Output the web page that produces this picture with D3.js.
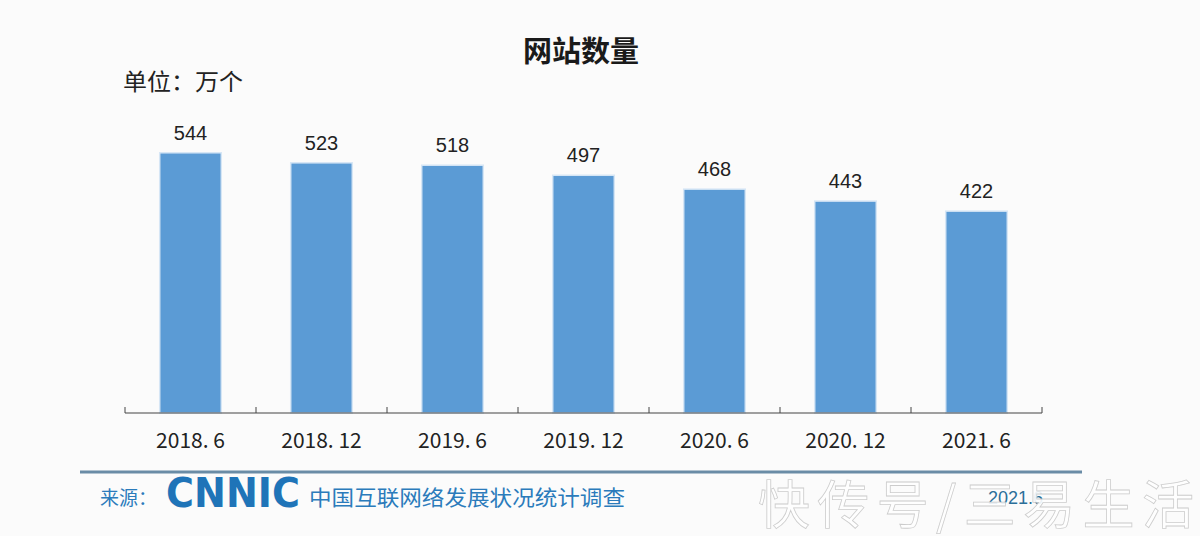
<!DOCTYPE html>
<html>
<head>
<meta charset="utf-8">
<script src="https://cdn.jsdelivr.net/npm/d3@7"></script>
<style>
body { margin: 0; background: #fff; }
svg { display: block; }
</style>
</head>
<body>
<div id="grafica"></div>
<script>
// datos
var periodos = ["2018.6", "2018.12", "2019.6", "2019.12", "2020.6", "2020.12", "2021.6"];
var sitios = [544, 523, 518, 497, 468, 443, 422];

var W = 1200, H = 536;
var margin = {top: 126, right: 158, bottom: 123, left: 125},
width = W - margin.left - margin.right,
height = H - margin.top - margin.bottom;

var svg = d3.select("#grafica")
.append("svg")
.attr("width", W)
.attr("height", H);

svg.append("rect").attr("width", W).attr("height", H).attr("fill", "#fbfbfb");

// titulo y unidad
svg.append("text")
.attr("x", 581).attr("y", 62)
.attr("text-anchor", "middle")
.style("font-family", "'Noto Sans CJK SC'")
.style("font-weight", "bold")
.style("font-size", "29px")
.attr("fill", "#1a1a1a")
.text("网站数量");

svg.append("text")
.attr("x", 123).attr("y", 90)
.style("font-family", "'Noto Sans CJK SC'")
.style("font-size", "23px")
.attr("fill", "#222")
.attr("textLength", 120)
.attr("lengthAdjust", "spacingAndGlyphs")
.text("单位：万个");

var g = svg.append("g")
.attr("transform", "translate(" + margin.left + "," + margin.top + ")");

// X axis
var x = d3.scaleBand()
.range([0, width])
.domain(periodos)
.paddingInner(0.53)
.paddingOuter(0.265);

// Y axis (oculto)
var y = d3.scaleLinear()
.domain([0, 600])
.range([height, 0]);

// Barras
g.selectAll(".bar")
.data(sitios)
.enter()
.append("rect")
.attr("x", function(d, i) { return x(periodos[i]); })
.attr("y", function(d) { return y(d); })
.attr("width", x.bandwidth())
.attr("height", function(d) { return height - y(d); })
.attr("fill", "#5b9bd5")
.attr("stroke", "#d6e6f5")
.attr("stroke-width", 1.5);

// etiquetas
g.selectAll(".lbl")
.data(sitios)
.enter()
.append("text")
.attr("x", function(d, i) { return x(periodos[i]) + x.bandwidth() / 2; })
.attr("y", function(d) { return y(d) - 13; })
.attr("text-anchor", "middle")
.style("font-family", "'Liberation Sans', Arial")
.style("font-size", "20px")
.attr("fill", "#222")
.text(function(d) { return d; });

// eje
var ejeX = g.append("g")
.attr("transform", "translate(0," + height + ")");
ejeX.append("line")
.attr("x1", 0).attr("x2", width)
.attr("stroke", "#444").attr("stroke-width", 1.2);
var bordes = d3.range(periodos.length + 1).map(function(i) {
  return i === periodos.length ? width : x(periodos[i]) - x.step() * x.paddingInner() / 2;
});
ejeX.selectAll(".tick")
.data(bordes)
.enter()
.append("line")
.attr("x1", function(d) { return d; })
.attr("x2", function(d) { return d; })
.attr("y1", -6).attr("y2", 0)
.attr("stroke", "#444");
ejeX.selectAll(".tl")
.data(periodos)
.enter()
.append("text")
.attr("x", function(d) { return x(d) + x.bandwidth() / 2; })
.attr("y", 35)
.attr("text-anchor", "middle")
.style("font-family", "'Noto Sans CJK SC'")
.style("font-size", "21px")
.attr("fill", "#222")
.text(function(d) { return d.replace(".", ". "); });

// pie
svg.append("line")
.attr("x1", 80).attr("x2", 1082)
.attr("y1", 472).attr("y2", 472)
.attr("stroke", "#6a8ca6").attr("stroke-width", 3);

svg.append("text")
.attr("x", 100).attr("y", 505)
.style("font-family", "'Noto Sans CJK SC'")
.style("font-size", "19px")
.attr("fill", "#2b7bbb")
.text("来源：");

svg.append("text")
.attr("x", 166).attr("y", 507)
.style("font-family", "'DejaVu Sans'")
.style("font-weight", "bold")
.style("font-size", "40px")
.attr("fill", "#1f74b8")
.attr("textLength", 134)
.attr("lengthAdjust", "spacingAndGlyphs")
.text("CNNIC");

svg.append("text")
.attr("x", 309).attr("y", 505)
.style("font-family", "'Noto Sans CJK SC'")
.style("font-size", "21px")
.attr("fill", "#2b7bbb")
.attr("textLength", 316)
.attr("lengthAdjust", "spacingAndGlyphs")
.text("中国互联网络发展状况统计调查");

svg.append("text")
.attr("x", 988).attr("y", 504)
.style("font-family", "'Liberation Sans'")
.style("font-size", "18px")
.attr("fill", "#2b6f99")
.text("2021.6");

// marca de agua
svg.append("text")
.attr("x", 758).attr("y", 524)
.style("font-family", "'Noto Sans CJK SC'")
.style("font-size", "52px")
.attr("fill", "#ffffff")
.attr("stroke", "#c8c8c8")
.attr("stroke-width", 0.8)
.attr("opacity", 0.9)
.attr("textLength", 436)
.attr("lengthAdjust", "spacing")
.text("快传号/三易生活");
</script>
</body>
</html>
